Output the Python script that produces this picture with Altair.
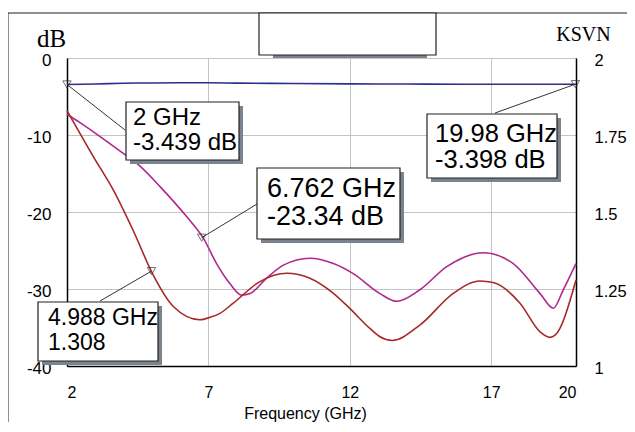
import altair as alt
import pandas as pd

# ---------------- data ----------------
x_ticks = [2, 7, 12, 17, 20]
db_ticks = [0, -10, -20, -30, -40]
ksvn_ticks = [2, 1.75, 1.5, 1.25, 1]

s21_freq = [2, 3, 4, 5, 6, 7, 8, 10, 12, 14, 16, 18, 20]
s21_db = [-3.44, -3.38, -3.28, -3.24, -3.22, -3.22, -3.26, -3.32, -3.36, -3.38, -3.40, -3.40, -3.40]

s11_freq = [2, 2.46, 3.17, 3.99, 4.6, 5.29, 6.23, 6.82, 7.29, 7.76, 8.18, 8.47, 9.06, 9.65,
            10.59, 11.42, 12.12, 13.07, 13.66, 14.48, 15.43, 16.72, 17.78, 18.73, 19.2, 19.55, 20]
s11_db = [-7.3, -8.4, -10.2, -12.4, -14.1, -16.7, -20.6, -23.4, -26.7, -29.3, -30.8, -30.6, -28.6, -26.9,
          -26.0, -26.7, -28.0, -30.6, -31.6, -30.1, -27.1, -25.3, -26.7, -30.6, -32.5, -30.1, -26.7]

ksvn_freq = [2, 2.93, 3.64, 4.34, 5.05, 5.76, 6.70, 7.06, 7.41, 7.88, 8.82, 9.77, 10.59, 11.42,
             12.0, 12.71, 13.07, 13.5, 14.48, 15.66, 16.6, 17.07, 18.02, 18.73, 19.08, 19.26, 20]
ksvn_val = [1.829, 1.68, 1.571, 1.44, 1.295, 1.193, 1.15, 1.158, 1.171, 1.204, 1.274, 1.301, 1.285, 1.236,
            1.187, 1.122, 1.095, 1.083, 1.133, 1.236, 1.276, 1.271, 1.204, 1.111, 1.093, 1.10, 1.279]

marker_db_freq = [2, 6.762, 19.98]
marker_db_val = [-3.439, -23.34, -3.398]
marker_db_freq_txt = ["2 GHz", "6.762 GHz", "19.98 GHz"]
marker_db_val_txt = ["-3.439 dB", "-23.34 dB", "-3.398 dB"]
marker_k_freq = [4.988]
marker_k_val = [1.308]
marker_k_freq_txt = ["4.988 GHz"]
marker_k_val_txt = ["1.308"]

# ---------------- layout / style (pixels relative to plot origin) ----------------
W, H = 509, 308
BLUE, MAGENTA, RED = "#2e2e8e", "#b0288c", "#a8282a"
SHADOW = "#7b838c"
SANS, SERIF = "Liberation Sans", "Liberation Serif"

# box: (x0, y0, x1, y1), text x, baseline1, baseline2, font size, leader end (x, y)
db_boxes = [
    ((59, 44, 172, 102), 66, 67, 92, 24, (58, 72)),
    ((190, 110, 333, 181), 200, 139, 167, 27, (190, 146)),
    ((360, 56, 490, 120), 368, 84, 110, 25.5, (428, 55)),
]
k_boxes = [
    ((-29, 244, 91, 303), -19, 267, 292, 23, (33, 243)),
]

xscale = alt.Scale(domain=[2, 20], nice=False, zero=False)
dbscale = alt.Scale(domain=[-40, 0], nice=False, zero=False)
kscale = alt.Scale(domain=[1, 2], nice=False, zero=False)

xaxis = alt.Axis(values=x_ticks, title="Frequency (GHz)", grid=True, gridColor="#c4c4c4",
                 ticks=False, tickSize=0, labelFont=SANS, labelFontSize=16, labelColor="black",
                 labelBaseline="middle", labelPadding=26, labelExpr="datum.value + ''",
                 domainColor="black", domainWidth=1.5,
                 titleFont=SANS, titleFontSize=16, titleFontWeight="normal", titleColor="black",
                 titleX=238, titleY=47, titleBaseline="middle", titleAlign="center")
dbaxis = alt.Axis(values=db_ticks, orient="left", title="dB", grid=True, gridColor="#c4c4c4",
                  ticks=False, tickSize=0, labelFont=SANS, labelFontSize=17, labelColor="black",
                  labelPadding=16, labelOffset=2, labelExpr="datum.value + ''",
                  domainColor="black", domainWidth=1.5,
                  titleFont=SERIF, titleFontSize=25, titleFontWeight="normal", titleColor="black",
                  titleAngle=0, titleX=-16, titleY=-12, titleAlign="center", titleBaseline="alphabetic")
kaxis = alt.Axis(values=ksvn_ticks, orient="right", title="KSVN", grid=False,
                 ticks=False, tickSize=0, labelFont=SANS, labelFontSize=16.5, labelColor="black",
                 labelPadding=18, labelOffset=2, labelExpr="datum.value + ''",
                 domainColor="black", domainWidth=1.5,
                 titleFont=SERIF, titleFontSize=20, titleFontWeight="normal", titleColor="black",
                 titleAngle=0, titleX=7, titleY=-18, titleAlign="center", titleBaseline="alphabetic")

X = alt.X("f:Q", scale=xscale, axis=xaxis)
YDB = alt.Y("v:Q", scale=dbscale, axis=dbaxis)
YK = alt.Y("v:Q", scale=kscale, axis=kaxis)

db_lines = pd.concat([
    pd.DataFrame({"f": s21_freq, "v": s21_db, "s": "S21"}),
    pd.DataFrame({"f": s11_freq, "v": s11_db, "s": "S11"}),
])
k_line = pd.DataFrame({"f": ksvn_freq, "v": ksvn_val})


def annotation(freq, val, t1, t2, box, Y):
    (x0, y0, x1, y1), tx, b1, b2, fs, (lx, ly) = box
    d = pd.DataFrame({"f": [freq], "v": [val], "l1": [t1], "l2": [t2]})
    base = alt.Chart(d)
    leader = base.mark_rule(color="#333333", strokeWidth=1).encode(
        x=X, y=Y, x2=alt.value(lx), y2=alt.value(ly))
    shadow = base.mark_rect(fill=SHADOW).encode(
        x=alt.value(x0 + 4), x2=alt.value(x1 + 4), y=alt.value(y0 + 4), y2=alt.value(y1 + 4))
    rect = base.mark_rect(fill="white", stroke="#222222", strokeWidth=1.2).encode(
        x=alt.value(x0), x2=alt.value(x1), y=alt.value(y0), y2=alt.value(y1))
    txt1 = base.mark_text(align="left", baseline="alphabetic", font=SANS, fontSize=fs,
                          color="black").encode(x=alt.value(tx), y=alt.value(b1), text="l1:N")
    txt2 = base.mark_text(align="left", baseline="alphabetic", font=SANS, fontSize=fs,
                          color="black").encode(x=alt.value(tx), y=alt.value(b2), text="l2:N")
    marker = base.mark_point(shape="triangle-down", filled=False, size=70, color="#333333",
                             strokeWidth=1).encode(x=X, y=Y)
    return [leader, shadow, rect, txt1, txt2, marker]


frame_df = pd.DataFrame({"a": [0]})
frame_left = alt.Chart(frame_df).mark_rule(color="#222222", strokeWidth=1).encode(
    x=alt.value(-59), y=alt.value(-45), y2=alt.value(370))
frame_top = alt.Chart(frame_df).mark_rule(color="#222222", strokeWidth=1).encode(
    x=alt.value(-59), x2=alt.value(562), y=alt.value(-45))
legend_shadow = alt.Chart(frame_df).mark_rect(fill=SHADOW).encode(
    x=alt.value(206), x2=alt.value(360), y=alt.value(-3), y2=alt.value(0))
legend_box = alt.Chart(frame_df).mark_rect(fill="white", stroke="#222222", strokeWidth=1.2).encode(
    x=alt.value(192), x2=alt.value(369), y=alt.value(-45), y2=alt.value(-3))

lines = alt.Chart(db_lines).mark_line(strokeWidth=1.6, interpolate="monotone").encode(
    x=X, y=YDB,
    color=alt.Color("s:N", scale=alt.Scale(domain=["S21", "S11"], range=[BLUE, MAGENTA]), legend=None),
    detail="s:N")

left_layers = [frame_left, frame_top, legend_shadow, legend_box, lines]
for i in range(len(marker_db_freq)):
    left_layers += annotation(marker_db_freq[i], marker_db_val[i], marker_db_freq_txt[i],
                              marker_db_val_txt[i], db_boxes[i], YDB)

kline = alt.Chart(k_line).mark_line(strokeWidth=1.6, interpolate="monotone", color=RED).encode(x=X, y=YK)
right_layers = [kline]
for i in range(len(marker_k_freq)):
    right_layers += annotation(marker_k_freq[i], marker_k_val[i], marker_k_freq_txt[i],
                               marker_k_val_txt[i], k_boxes[i], YK)

left = alt.layer(*left_layers)
right = alt.layer(*right_layers)

chart = alt.layer(left, right).resolve_scale(y="independent").properties(
    width=W, height=H,
    autosize=alt.AutoSizeParams(type="none"),
    padding={"left": 59, "top": 50, "right": 51, "bottom": 56},
    background="white",
).configure_view(stroke="#8a8a8a", strokeWidth=1)

chart.save("out.html", embed_options={"renderer": "svg", "actions": False})
